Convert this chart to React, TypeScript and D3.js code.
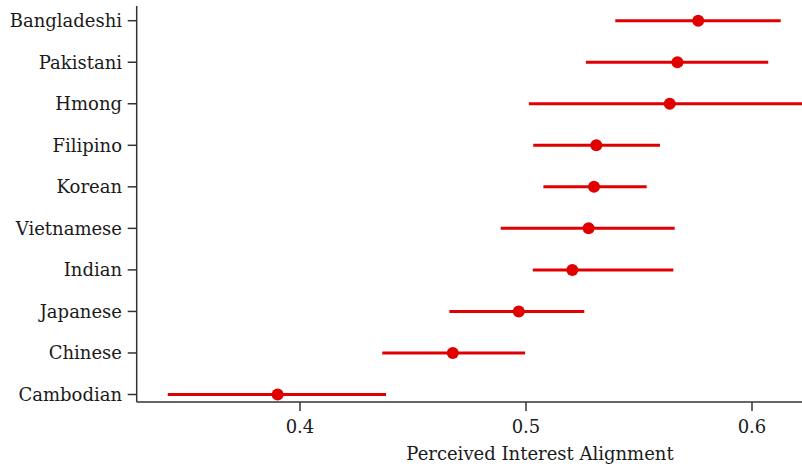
import React from "react";
import * as d3 from "d3";

const categories = ["Bangladeshi", "Pakistani", "Hmong", "Filipino", "Korean", "Vietnamese", "Indian", "Japanese", "Chinese", "Cambodian"];
const estimates = [0.5762, 0.567, 0.5636, 0.5311, 0.5301, 0.5277, 0.5205, 0.4968, 0.4676, 0.3901];
const lowerCI = [0.5395, 0.5265, 0.5013, 0.5032, 0.5077, 0.4888, 0.503, 0.4661, 0.4364, 0.3415];
const upperCI = [0.6127, 0.6072, 0.626, 0.5593, 0.5534, 0.5658, 0.5652, 0.5258, 0.4996, 0.4381];
const xTicks = [0.4, 0.5, 0.6];
const xLabel = "Perceived Interest Alignment";

const W = 802;
const H = 468;
const FONT = "DejaVu Serif";
const RED = "#e00000";
const AXIS = "#333";

export default function App() {
  const left = 136.7;
  const bottom = 402;
  const x = d3.scaleLinear().domain([0.4, 0.6]).range([300, 752]);
  const y = d3.scalePoint<string>().domain(categories).range([20.7, 394.5]);
  return (
    <svg width={W} height={H} style={{ position: "absolute", left: 0, top: 0, background: "#fff" }} fontFamily={FONT}>
      <defs>
        <clipPath id="plot">
          <rect x={left} y={0} width={W - left} height={bottom} />
        </clipPath>
      </defs>
      <line x1={left} x2={left} y1={6} y2={bottom} stroke={AXIS} strokeWidth={1.5} />
      <line x1={left} x2={W} y1={bottom} y2={bottom} stroke={AXIS} strokeWidth={1.5} />
      {categories.map((c) => (
        <g key={c}>
          <line x1={left - 9} x2={left} y1={y(c)} y2={y(c)} stroke={AXIS} strokeWidth={1.5} />
          <text x={122} y={y(c)!} dy="0.35em" textAnchor="end" fontSize={18} fill="#1a1a1a">{c}</text>
        </g>
      ))}
      {xTicks.map((t) => (
        <g key={t}>
          <line x1={x(t)} x2={x(t)} y1={bottom} y2={bottom + 9} stroke={AXIS} strokeWidth={1.5} />
          <text x={x(t)} y={432.7} textAnchor="middle" fontSize={18} fill="#1a1a1a">{t.toFixed(1)}</text>
        </g>
      ))}
      <text x={540} y={460} textAnchor="middle" fontSize={18} fill="#1a1a1a">{xLabel}</text>
      <g clipPath="url(#plot)">
        {categories.map((c, i) => (
          <g key={c}>
            <line x1={x(lowerCI[i])} x2={x(upperCI[i])} y1={y(c)} y2={y(c)} stroke={RED} strokeWidth={3} />
            <circle cx={x(estimates[i])} cy={y(c)} r={6} fill={RED} />
          </g>
        ))}
      </g>
    </svg>
  );
}
